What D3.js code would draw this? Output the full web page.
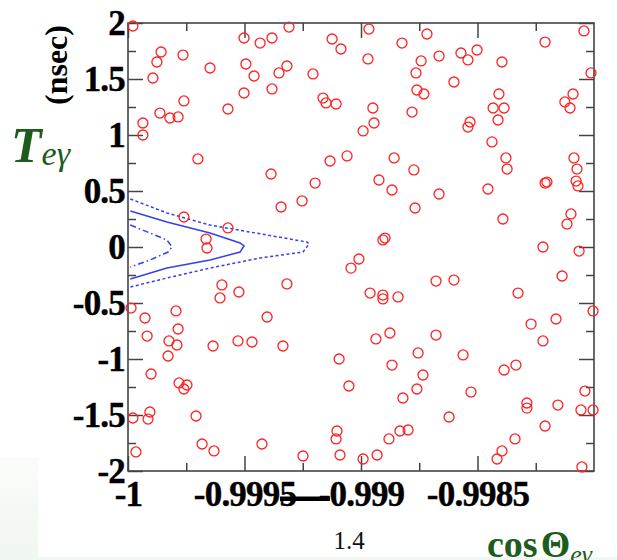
<!DOCTYPE html>
<html>
<head>
<meta charset="utf-8">
<script src="https://cdn.jsdelivr.net/npm/d3@7"></script>
<style>
body { margin: 0; background: #fff; }
svg { display: block; font-family: 'Liberation Serif', 'Times New Roman', serif; }
</style>
</head>
<body>
<div id="vis"></div>
<script>
// Events: cos(theta_e-gamma) and time difference (nsec)
var cosTheta = [
	-0.999979, -0.999858, -0.999876, -0.999764, -0.999893, -0.999648, -0.999760, -0.999863, -0.999820, -0.999785,
	-0.999936, -0.999936, -0.999571, -0.999502, -0.999433, -0.999382, -0.999309, -0.999494, -0.999459, -0.999352,
	-0.999318, -0.999206, -0.999502, -0.999382, -0.999700, -0.999386, -0.999197, -0.999343, -0.999253, -0.999760,
	-0.999571, -0.999665, -0.999661, -0.998966, -0.999124, -0.999086, -0.998970, -0.998824, -0.998717, -0.998742,
	-0.998764, -0.998665, -0.998571, -0.998541, -0.998502, -0.998395, -0.998601, -0.998760, -0.998730, -0.998210,
	-0.998043, -0.998013, -0.999163, -0.999150, -0.999107, -0.998949, -0.998944, -0.998991, -0.998781, -0.998408,
	-0.998433, -0.998386, -0.998412, -0.998532, -0.998541, -0.998438, -0.998125, -0.998090, -0.998103, -0.999133,
	-0.999060, -0.998858, -0.998773, -0.998923, -0.998867, -0.998665, -0.998768, -0.998378, -0.998373, -0.998455,
	-0.998391, -0.998210, -0.998202, -0.998086, -0.998073, -0.998077, -0.998069, -0.998099, -0.998116, -0.998219,
	-0.998064, -0.998906, -0.998897, -0.999009, -0.999043, -0.998678, -0.998601, -0.998137, -0.998961, -0.998906,
	-0.998906, -0.998841, -0.998326, -0.998004, -0.998270, -0.998163, -0.998219, -0.998936, -0.998876, -0.998678,
	-0.999094, -0.998867, -0.998755, -0.998734, -0.998760, -0.998820, -0.999052, -0.998562, -0.998528, -0.998386,
	-0.998335, -0.998288, -0.998288, -0.998155, -0.998039, -0.998056, -0.998004, -0.998210, -0.998339, -0.998395,
	-0.998416, -0.998052, -0.998622, -0.999103, -0.999107, -0.999090, -0.998991, -0.998931, -0.998880, -0.998833,
	-0.998798, -0.999249, -0.999597, -0.999605, -0.999524, -0.999318, -0.999987, -0.999927, -0.999794, -0.999785,
	-0.999918, -0.999824, -0.999790, -0.999828, -0.999635, -0.999528, -0.999468, -0.999403, -0.999335, -0.999901,
	-0.999781, -0.999747, -0.999760, -0.999906, -0.999914, -0.999979, -0.999708, -0.999966, -0.999682, -0.999631,
	-0.999425
];
var tEg = [
	1.973, 1.741, 1.652, 1.714, 1.509, 1.598, 1.304, 1.196, 1.152, 1.161,
	1.107, 1.000, 1.232, 1.866, 1.821, 1.866, 1.964, 1.634, 1.527, 1.554,
	1.616, 1.545, 1.375, 1.411, 0.786, 0.652, 0.571, 0.357, 0.411, 0.268,
	0.170, 0.071, -0.009, 1.946, 1.857, 1.768, 1.679, 1.821, 1.902, 1.661,
	1.554, 1.705, 1.732, 1.670, 1.759, 1.652, 1.473, 1.402, 1.366, 1.830,
	1.929, 1.554, 1.330, 1.286, 1.277, 1.241, 1.107, 1.036, 1.205, 1.366,
	1.241, 1.241, 1.134, 1.116, 1.071, 0.938, 1.295, 1.366, 1.241, 0.768,
	0.813, 0.795, 0.688, 0.598, 0.509, 0.473, 0.348, 0.795, 0.696, 0.518,
	0.250, 0.571, 0.580, 0.795, 0.696, 0.589, 0.545, 0.295, 0.205, 0.000,
	-0.036, 0.063, 0.080, -0.107, -0.188, -0.304, -0.295, -0.259, -0.411, -0.429,
	-0.464, -0.446, -0.411, -0.571, -0.688, -0.643, -0.839, -0.821, -0.768, -0.786,
	-1.000, -1.054, -0.946, -1.143, -1.268, -1.348, -1.241, -0.964, -1.295, -1.098,
	-1.054, -1.393, -1.438, -1.411, -1.286, -1.455, -1.455, -1.598, -1.714, -1.821,
	-1.893, -1.964, -1.518, -1.643, -1.714, -1.857, -1.893, -1.857, -1.714, -1.643,
	-1.634, -1.866, -0.339, -0.455, -0.402, -0.330, -0.545, -0.634, -0.571, -0.732,
	-0.795, -0.839, -0.875, -0.973, -0.884, -0.839, -0.848, -0.625, -0.884, -1.134,
	-1.214, -1.232, -1.268, -1.473, -1.536, -1.527, -1.509, -1.830, -1.759, -1.821,
	-1.759
];

// Signal region contours
var solidX = [-0.99999, -0.999833, -0.999648, -0.999519, -0.999502, -0.999519, -0.999648, -0.999833, -0.99999];
var solidY = [0.321, 0.223, 0.125, 0.036, 0.01, -0.045, -0.116, -0.188, -0.286];
var outerX = [-0.99999, -0.999833, -0.999648, -0.999403, -0.999232, -0.999223, -0.999249, -0.999433, -0.999648, -0.999833, -0.99999];
var outerY = [0.429, 0.304, 0.196, 0.107, 0.045, 0.027, -0.045, -0.098, -0.188, -0.277, -0.357];
var innerX = [-0.99999, -0.999906, -0.999833, -0.999811, -0.999828, -0.999906, -0.99999];
var innerY = [0.196, 0.125, 0.063, 0.0, -0.045, -0.116, -0.179];

var xTicks = [-1, -0.9995, -0.999, -0.9985];
var xTickLabels = ['-1', '-0.9995', '-0.999', '-0.9985'];
var xMinorTicks = [-0.99975, -0.99925, -0.99875, -0.99825];
var yTicks = [-2, -1.5, -1, -0.5, 0, 0.5, 1, 1.5, 2];
var yTickLabels = ['-2', '-1.5', '-1', '-0.5', '0', '0.5', '1', '1.5', '2'];
var yMinorTicks = [-1.75, -1.25, -0.75, -0.25, 0.25, 0.75, 1.25, 1.75];

var width = 617, height = 560;
var plot = {left: 128, right: 594, top: 23, bottom: 471};

var svg = d3.select('#vis').append('svg')
	.attr('width', width)
	.attr('height', height);

// faint slide background in the lower left corner
var defs = svg.append('defs');
var grad = defs.append('linearGradient').attr('id', 'bg').attr('x1', 0).attr('y1', 0).attr('x2', 0).attr('y2', 1);
grad.append('stop').attr('offset', 0).attr('stop-color', '#fafcfa');
grad.append('stop').attr('offset', 1).attr('stop-color', '#f0f6f0');
svg.append('rect').attr('x', 0).attr('y', 458).attr('width', 38).attr('height', 102).attr('fill', 'url(#bg)');
svg.append('rect').attr('x', 0).attr('y', 557).attr('width', width).attr('height', 3).attr('fill', '#f1f7f1');

var x = d3.scaleLinear().domain([-1, -0.998]).range([plot.left, plot.right]);
var y = d3.scaleLinear().domain([-2, 2]).range([plot.bottom, plot.top]);

drawAxes();
drawContours();
drawPoints();
drawLabels();

// Frame plus inward ticks on all four sides
function drawAxes() {
	var tickColor = '#444';

	function styleAxis(g) {
		g.select('.domain').remove();
		g.selectAll('.tick line').attr('stroke', tickColor).attr('stroke-width', 1.5);
		g.selectAll('.tick text')
			.attr('fill', '#000')
			.attr('stroke', '#000')
			.attr('stroke-width', 0.4)
			.style('font-family', "'Liberation Serif', serif")
			.style('font-weight', 'bold')
			.style('font-size', '35px')
			.style('letter-spacing', '-0.8px');
	}

	svg.append('g').attr('transform', 'translate(0,' + plot.bottom + ')')
		.call(d3.axisBottom(x).tickValues(xTicks)
			.tickFormat(function(d, i) { return xTickLabels[i]; })
			.tickSizeInner(-15).tickSizeOuter(0).tickPadding(10))
		.call(styleAxis);
	svg.append('g').attr('transform', 'translate(0,' + plot.bottom + ')')
		.call(d3.axisBottom(x).tickValues(xMinorTicks).tickFormat('')
			.tickSizeInner(-8).tickSizeOuter(0))
		.call(styleAxis);
	svg.append('g').attr('transform', 'translate(0,' + plot.top + ')')
		.call(d3.axisTop(x).tickValues(xTicks).tickFormat('')
			.tickSizeInner(-15).tickSizeOuter(0))
		.call(styleAxis);
	svg.append('g').attr('transform', 'translate(0,' + plot.top + ')')
		.call(d3.axisTop(x).tickValues(xMinorTicks).tickFormat('')
			.tickSizeInner(-8).tickSizeOuter(0))
		.call(styleAxis);

	svg.append('g').attr('transform', 'translate(' + plot.left + ',0)')
		.call(d3.axisLeft(y).tickValues(yTicks)
			.tickFormat(function(d, i) { return yTickLabels[i]; })
			.tickSizeInner(-15).tickSizeOuter(0).tickPadding(3))
		.call(styleAxis);
	svg.append('g').attr('transform', 'translate(' + plot.left + ',0)')
		.call(d3.axisLeft(y).tickValues(yMinorTicks).tickFormat('')
			.tickSizeInner(-8).tickSizeOuter(0))
		.call(styleAxis);
	svg.append('g').attr('transform', 'translate(' + plot.right + ',0)')
		.call(d3.axisRight(y).tickValues(yTicks).tickFormat('')
			.tickSizeInner(-15).tickSizeOuter(0))
		.call(styleAxis);
	svg.append('g').attr('transform', 'translate(' + plot.right + ',0)')
		.call(d3.axisRight(y).tickValues(yMinorTicks).tickFormat('')
			.tickSizeInner(-8).tickSizeOuter(0))
		.call(styleAxis);

	svg.append('rect')
		.attr('x', plot.left).attr('y', plot.top)
		.attr('width', plot.right - plot.left)
		.attr('height', plot.bottom - plot.top)
		.attr('fill', 'none')
		.attr('stroke', tickColor)
		.attr('stroke-width', 1.6);
}

// Blue contour lines around the signal region
function drawContours() {
	var line = d3.line()
		.x(function(d) { return x(d[0]); })
		.y(function(d) { return y(d[1]); });

	var contours = [
		{xs: outerX, ys: outerY, dash: '3,2.5'},
		{xs: solidX, ys: solidY, dash: null},
		{xs: innerX, ys: innerY, dash: '6,3,1.5,3'}
	];

	contours.forEach(function(c) {
		var pts = c.xs.map(function(v, i) { return [v, c.ys[i]]; });
		svg.append('path')
			.attr('d', line(pts))
			.attr('fill', 'none')
			.attr('stroke', '#3340ee')
			.attr('stroke-width', 1.5)
			.attr('stroke-dasharray', c.dash);
	});
}

// Red open circles, one per event
function drawPoints() {
	var pts = cosTheta.map(function(v, i) { return [v, tEg[i]]; });
	svg.append('g')
		.selectAll('circle')
		.data(pts)
		.enter()
		.append('circle')
		.attr('cx', function(d) { return x(d[0]); })
		.attr('cy', function(d) { return y(d[1]); })
		.attr('r', 5)
		.attr('fill', 'none')
		.attr('stroke', '#ff2222')
		.attr('stroke-width', 1.3);
}

function drawLabels() {
	var green = '#1d5c1d';

	svg.append('text')
		.attr('transform', 'translate(67,65) rotate(-90)')
		.attr('text-anchor', 'middle')
		.style('font-weight', 'bold')
		.style('font-size', '32px')
		.text('(nsec)');

	var t = svg.append('text')
		.attr('x', 11)
		.attr('y', 162)
		.attr('fill', green)
		.style('font-style', 'italic')
		.style('font-weight', 'bold')
		.style('font-size', '50px');
	t.append('tspan').text('T');
	t.append('tspan').attr('dy', 3).style('font-size', '34px')
		.style('font-weight', 'normal').text('eγ');

	var c = svg.append('text')
		.attr('x', 487)
		.attr('y', 557)
		.attr('fill', green)
		.style('font-weight', 'bold')
		.style('font-size', '38px');
	c.append('tspan').text('cos');
	c.append('tspan').attr('dx', 3).text('Θ');
	c.append('tspan').attr('dy', 6).style('font-size', '26px')
		.style('font-style', 'italic').style('font-weight', 'normal').text('eγ');

	// slide page number and pointer bar
	svg.append('text')
		.attr('x', 349)
		.attr('y', 549)
		.attr('text-anchor', 'middle')
		.attr('fill', '#111')
		.style('font-size', '25px')
		.text('1.4');

	svg.append('rect')
		.attr('x', 280).attr('y', 496.5)
		.attr('width', 50).attr('height', 4.5)
		.attr('fill', '#000');
}
</script>
</body>
</html>
